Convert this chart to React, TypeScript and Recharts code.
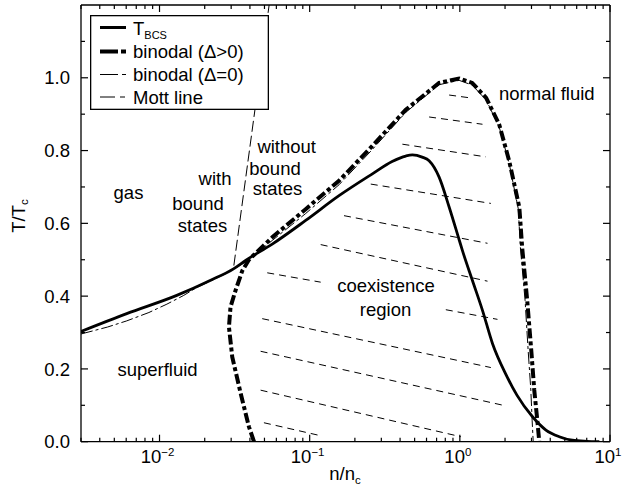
import React from 'react';
import { LineChart, Line, XAxis, YAxis, Legend } from 'recharts';

const FONT = '"Liberation Sans", Arial, Helvetica, sans-serif';
const FS = 18.5;

// ---- ticks ----
const xMajorTicks = [0.01, 0.1, 1, 10];
const xMajorExponents = ['\u22122', '\u22121', '0', '1'];
const xMinorTicks = [
  0.003, 0.004, 0.005, 0.006, 0.007, 0.008, 0.009,
  0.02, 0.03, 0.04, 0.05, 0.06, 0.07, 0.08, 0.09,
  0.2, 0.3, 0.4, 0.5, 0.6, 0.7, 0.8, 0.9,
  2, 3, 4, 5, 6, 7, 8, 9,
];
const yMajorTicks = [0, 0.2, 0.4, 0.6, 0.8, 1.0];
const yMajorLabels = ['0.0', '0.2', '0.4', '0.6', '0.8', '1.0'];
const yMinorTicks = [0.1, 0.3, 0.5, 0.7, 0.9, 1.1];

// ---- series (n/n_c, T/T_c) ----
const tBCS: [number, number][] = [
  [0.003, 0.303], [0.00605, 0.352], [0.01303, 0.402], [0.02173, 0.443], [0.0311, 0.475],
  [0.03744, 0.498], [0.05633, 0.543], [0.09404, 0.608], [0.1568, 0.676], [0.2615, 0.736],
  [0.354, 0.77], [0.4365, 0.785], [0.4831, 0.788], [0.561, 0.782], [0.6241, 0.772],
  [0.7278, 0.727], [0.8486, 0.645], [0.9893, 0.555], [1.041, 0.525], [1.213, 0.443],
  [1.415, 0.361], [1.649, 0.27], [2.026, 0.185], [2.4, 0.128], [3.048, 0.0685],
  [3.744, 0.032], [4.592, 0.0137], [5.61, 0.004], [7.0, 0.001], [8.49, 0],
];

const binodalGap: [number, number][] = [
  [0.0426, 0], [0.0394, 0.041], [0.0347, 0.133], [0.0305, 0.233], [0.029, 0.315],
  [0.0297, 0.37], [0.0321, 0.416], [0.0356, 0.47], [0.0394, 0.5], [0.05633, 0.5616],
  [0.09404, 0.639], [0.1568, 0.717], [0.2615, 0.813], [0.4365, 0.912], [0.7278, 0.986],
  [0.989, 0.998], [1.208, 0.986], [1.497, 0.945], [1.828, 0.872], [2.13, 0.772],
  [2.49, 0.644], [2.6, 0.534], [2.81, 0.388], [2.99, 0.251], [3.13, 0.142],
  [3.28, 0.059], [3.38, 0],
];

const binodalNoGap: [number, number][] = [
  [0.003, 0.296], [0.0045, 0.315], [0.00605, 0.332], [0.0085, 0.355], [0.0112, 0.378],
  [0.0145, 0.402], [0.01774, 0.424], [0.022, 0.442], [0.028, 0.463], [0.0345, 0.485],
  [0.0394, 0.5], [0.05633, 0.553], [0.09404, 0.627], [0.1568, 0.706], [0.2615, 0.803],
  [0.4365, 0.905], [0.7278, 0.981], [0.989, 0.993], [1.208, 0.98], [1.497, 0.939],
  [1.828, 0.865], [2.13, 0.765], [2.45, 0.64], [2.53, 0.534], [2.72, 0.388],
  [2.85, 0.251], [2.97, 0.142], [3.03, 0.059], [3.08, 0],
];

const mottLine: [number, number][] = [
  [0.03126, 0.484], [0.0537, 1.2],
];

// tie lines: [n1, T1, n2, T2]
const tieLines: [number, number, number, number][] = [
  [0.8486, 0.9526, 1.153, 0.9452],
  [0.6241, 0.8923, 1.415, 0.8723],
  [0.4144, 0.8175, 1.49, 0.7827],
  [0.2551, 0.7079, 1.609, 0.6548],
  [0.1693, 0.6211, 1.528, 0.5452],
  [0.1184, 0.5416, 1.528, 0.4411],
  [0.05217, 0.4641, 0.1184, 0.4384],
  [0.8066, 0.3627, 1.781, 0.3362],
  [0.04831, 0.3381, 1.609, 0.2038],
  [0.04713, 0.2485, 1.923, 0.1005],
  [0.04713, 0.1416, 1.0155, 0.0137],
  [0.04958, 0.0521, 0.1184, 0.0164],
];

const seriesNames = ['T', 'binodal (\u0394>0)', 'binodal (\u0394=0)', 'Mott line'];

const toPts = (a: [number, number][]) => a.map(([n, T]) => ({ n, T }));

const near = (arr: number[], v: number) =>
  arr.findIndex((a) => (a === 0 ? Math.abs(v) < 1e-9 : Math.abs(a - v) <= 1e-6 * Math.abs(a)));

const allXTicks = [...xMinorTicks, ...xMajorTicks].sort((a, b) => a - b);
const allYTicks = [...yMinorTicks, ...yMajorTicks].sort((a, b) => a - b);

const AX = { stroke: '#000', strokeWidth: 1.3 };

const BottomTick = (props: any) => {
  const { x, y, payload } = props;
  const i = near(xMajorTicks, payload.value);
  const major = i >= 0;
  return (
    <g>
      <line x1={x} x2={x} y1={y} y2={y - (major ? 7 : 4)} stroke="#000" strokeWidth={1.2} />
      {major && (
        <text x={x - 2} y={y + 21.6} textAnchor="middle" fontFamily={FONT} fontSize={FS} fill="#000">
          10
          <tspan fontSize={11.5} dy={-7}>{xMajorExponents[i]}</tspan>
        </text>
      )}
    </g>
  );
};

const TopTick = (props: any) => {
  const { x, y, payload } = props;
  const major = near(xMajorTicks, payload.value) >= 0;
  return <line x1={x} x2={x} y1={y} y2={y + (major ? 7 : 4)} stroke="#000" strokeWidth={1.2} />;
};

const LeftTick = (props: any) => {
  const { x, y, payload } = props;
  const i = near(yMajorTicks, payload.value);
  const major = i >= 0;
  return (
    <g>
      <line x1={x} x2={x + (major ? 7 : 4)} y1={y} y2={y} stroke="#000" strokeWidth={1.2} />
      {major && (
        <text x={x - 11} y={y + 6.6} textAnchor="end" fontFamily={FONT} fontSize={FS} fill="#000">
          {yMajorLabels[i]}
        </text>
      )}
    </g>
  );
};

const RightTick = (props: any) => {
  const { x, y, payload } = props;
  const major = near(yMajorTicks, payload.value) >= 0;
  return <line x1={x} x2={x - (major ? 7 : 4)} y1={y} y2={y} stroke="#000" strokeWidth={1.2} />;
};

const LegendBox = () => {
  const tx = 43;
  const lx1 = 10;
  const lx2 = 36;
  return (
    <svg width={179} height={95} style={{ display: 'block' }}>
      <rect x={0.65} y={0.65} width={177.7} height={93.7} fill="#fff" stroke="#000" strokeWidth={1.3} />
      <line x1={lx1} x2={lx2} y1={12.5} y2={12.5} stroke="#000" strokeWidth={3} />
      <text x={tx} y={20} fontFamily={FONT} fontSize={FS} fill="#000">
        {seriesNames[0]}
        <tspan fontSize={11} dy={4}>BCS</tspan>
      </text>
      <line x1={lx1} x2={lx2} y1={36.5} y2={36.5} stroke="#000" strokeWidth={4} strokeDasharray="18 3 5 10" />
      <text x={tx} y={43} fontFamily={FONT} fontSize={FS} fill="#000">{seriesNames[1]}</text>
      <line x1={lx1} x2={lx2} y1={59.5} y2={59.5} stroke="#000" strokeWidth={1} strokeDasharray="18 4 5 10" />
      <text x={tx} y={66} fontFamily={FONT} fontSize={FS} fill="#000">{seriesNames[2]}</text>
      <line x1={lx1} x2={lx2} y1={82} y2={82} stroke="#000" strokeWidth={1} strokeDasharray="15 5 5 10" />
      <text x={tx} y={88.5} fontFamily={FONT} fontSize={FS} fill="#000">{seriesNames[3]}</text>
    </svg>
  );
};

const txt = (x: number, y: number, s: string, anchor: 'middle' | 'start' = 'middle') => (
  <text key={s + x + y} x={x} y={y} textAnchor={anchor} fontFamily={FONT} fontSize={FS} fill="#000">
    {s}
  </text>
);

export default function App() {
  return (
    <div style={{ position: 'absolute', left: 0, top: 0, width: 625, height: 498, background: '#fff' }}>
      <LineChart width={625} height={498} margin={{ top: 0, right: 0, bottom: 0, left: 0 }}>
        <XAxis
          xAxisId="b" dataKey="n" type="number" scale="log" domain={[0.003, 10]} allowDataOverflow
          ticks={allXTicks} interval={0} tick={<BottomTick />} tickLine={false} tickSize={0} tickMargin={0}
          height={56.3} axisLine={AX} orientation="bottom"
        />
        <XAxis
          xAxisId="t" dataKey="n" type="number" scale="log" domain={[0.003, 10]} allowDataOverflow
          ticks={allXTicks} interval={0} tick={<TopTick />} tickLine={false} tickSize={0} tickMargin={0}
          height={5} axisLine={AX} orientation="top"
        />
        <YAxis
          yAxisId="l" type="number" domain={[0, 1.2]} allowDataOverflow ticks={allYTicks} interval={0}
          tick={<LeftTick />} tickLine={false} tickSize={0} tickMargin={0} width={81} axisLine={AX}
          orientation="left"
        />
        <YAxis
          yAxisId="r" type="number" domain={[0, 1.2]} allowDataOverflow ticks={allYTicks} interval={0}
          tick={<RightTick />} tickLine={false} tickSize={0} tickMargin={0} width={15} axisLine={AX}
          orientation="right"
        />
        <Legend
          layout="horizontal" verticalAlign="middle" align="center"
          wrapperStyle={{ left: 90, top: 15, width: 179, height: 95 }}
          content={() => <LegendBox />}
        />
        {tieLines.map(([n1, t1, n2, t2], i) => (
          <Line
            key={'tie' + i} xAxisId="b" yAxisId="l" data={[{ n: n1, T: t1 }, { n: n2, T: t2 }]} dataKey="T"
            type="linear" stroke="#000" strokeWidth={1} strokeDasharray="7 5" dot={false}
            isAnimationActive={false} legendType="none"
          />
        ))}
        <Line
          xAxisId="b" yAxisId="l" data={toPts(mottLine)} dataKey="T" name={seriesNames[3]} type="linear"
          stroke="#000" strokeWidth={1} strokeDasharray="11 4" dot={false} isAnimationActive={false}
        />
        <Line
          xAxisId="b" yAxisId="l" data={toPts(binodalNoGap)} dataKey="T" name={seriesNames[2]} type="linear"
          stroke="#000" strokeWidth={1} strokeDasharray="12 3 3 3" dot={false} isAnimationActive={false}
        />
        <Line
          xAxisId="b" yAxisId="l" data={toPts(tBCS)} dataKey="T" name={seriesNames[0]} type="monotone"
          stroke="#000" strokeWidth={2.8} dot={false} isAnimationActive={false}
        />
        <Line
          xAxisId="b" yAxisId="l" data={toPts(binodalGap)} dataKey="T" name={seriesNames[1]} type="linear"
          stroke="#000" strokeWidth={4} strokeDasharray="10 3 4 3" dot={false} isAnimationActive={false}
        />
        {txt(128.5, 199, 'gas')}
        {txt(215, 185, 'with')}
        {txt(198, 210, 'bound')}
        {txt(202.5, 232, 'states')}
        {txt(286.7, 153, 'without')}
        {txt(275, 175, 'bound')}
        {txt(277.5, 195, 'states')}
        {txt(499, 100, 'normal fluid', 'start')}
        {txt(386, 292, 'coexistence')}
        {txt(385.5, 316, 'region')}
        {txt(157.5, 376, 'superfluid')}
        <text x={345} y={480} textAnchor="middle" fontFamily={FONT} fontSize={FS} fill="#000">
          n/n
          <tspan fontSize={11.5} dy={4}>c</tspan>
        </text>
        <text
          x={25} y={216} transform="rotate(-90, 25, 216)" textAnchor="middle" fontFamily={FONT}
          fontSize={FS} fill="#000"
        >
          T/T
          <tspan fontSize={11.5} dy={3}>c</tspan>
        </text>
      </LineChart>
    </div>
  );
}
